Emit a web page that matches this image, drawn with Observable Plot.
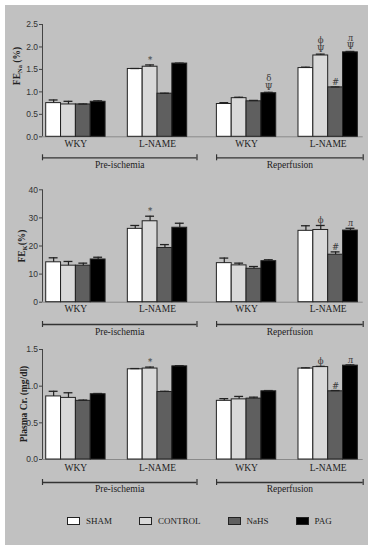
<!DOCTYPE html>
<html><head><meta charset="utf-8">
<script src="https://cdn.jsdelivr.net/npm/d3@7"></script>
<script src="https://cdn.jsdelivr.net/npm/@observablehq/plot@0.6"></script>
<style>
body{margin:0;background:#fff;width:373px;height:550px;position:relative;overflow:hidden;}
#panel{position:absolute;left:5px;top:5px;width:363px;height:540px;background:#c1c1c1;}
.chart{position:absolute;left:0;}
#legend{position:absolute;left:67px;top:516px;display:flex;gap:27px;font-family:"Liberation Serif",serif;font-size:9px;color:#222;align-items:center;}
#legend .item{display:flex;align-items:center;gap:6px;}
#legend .sw{width:11px;height:6px;border:1px solid #222;}
</style></head><body>
<div id="panel"></div>
<div id="c1" class="chart" style="top:0px"></div>
<div id="c2" class="chart" style="top:180px"></div>
<div id="c3" class="chart" style="top:345px"></div>
<div id="legend"></div>
<script>
// ---------- data ----------
const treatments = ["SHAM", "CONTROL", "NaHS", "PAG"];
const groups = ["WKY", "L-NAME", "WKY", "L-NAME"];
const conditions = ["Pre-ischemia", "Reperfusion"];

// rows: Pre WKY, Pre L-NAME, Rep WKY, Rep L-NAME ; cols: SHAM, CONTROL, NaHS, PAG
const feNaMean = [[0.75, 0.72, 0.72, 0.78], [1.51, 1.56, 0.96, 1.63], [0.73, 0.86, 0.79, 0.97], [1.53, 1.81, 1.10, 1.88]];
const feNaErr  = [[0.07, 0.07, 0.01, 0.02], [0.01, 0.04, 0.01, 0.01], [0.03, 0.02, 0.02, 0.02], [0.02, 0.03, 0.01, 0.02]];
const feNaSig  = [[1, 1, "*"], [2, 3, "δ\nΨ"], [3, 1, "ϕ\nΨ"], [3, 2, "#"], [3, 3, "л\nΨ"]];

const feKMean = [[14.2, 13.0, 13.0, 15.2], [26.1, 28.8, 19.3, 26.5], [13.9, 13.1, 11.9, 14.6], [25.4, 25.7, 16.9, 25.5]];
const feKErr  = [[1.6, 1.5, 0.9, 0.8], [1.2, 1.8, 1.2, 1.6], [1.8, 0.8, 0.8, 0.5], [1.8, 1.6, 1.0, 0.8]];
const feKSig  = [[1, 1, "*"], [3, 1, "ϕ"], [3, 2, "#"], [3, 3, "л"]];

const crMean = [[0.86, 0.84, 0.80, 0.89], [1.23, 1.24, 0.92, 1.27], [0.80, 0.82, 0.83, 0.93], [1.24, 1.26, 0.93, 1.28]];
const crErr  = [[0.07, 0.07, 0.01, 0.01], [0.01, 0.02, 0.01, 0.01], [0.03, 0.04, 0.02, 0.01], [0.01, 0.01, 0.01, 0.01]];
const crSig  = [[1, 1, "*"], [3, 1, "ϕ"], [3, 2, "#"], [3, 3, "л"]];

// ---------- styles / layout ----------
const fills = ["#ffffff", "#d9d9d9", "#5f5f5f", "#000000"];
const gapAfter = [1.5, 2, 1.5];      // gaps between groups, in bar widths
const groupStart = [0];
gapAfter.forEach((g, i) => groupStart.push(groupStart[i] + treatments.length + g));
const xDomain = [-0.25, groupStart[3] + treatments.length + 0.36];
const bracketSpan = [[xDomain[0], groupStart[1] + 4 + 0.66], [groupStart[2] - 0.02, xDomain[1]]];
const SERIF = "Liberation Serif, Times New Roman, serif";
const SANS = "Liberation Sans, Arial, sans-serif";
const INK = "#222";

function panel(el, o) {
  const rows = [];
  o.mean.forEach((r, g) => r.forEach((v, t) => rows.push({
    g, t, treat: treatments[t], value: v, err: o.err[g][t],
    x1: groupStart[g] + t, x2: groupStart[g] + t + 1, xc: groupStart[g] + t + 0.5
  })));
  const sig = o.sig.map(([g, t, s]) => {
    const r = rows.find(d => d.g === g && d.t === t);
    return {xc: r.xc, top: r.value + r.err, s};
  });
  const grp = groups.map((name, g) => ({name, xc: groupStart[g] + 2}));
  const br = conditions.map((name, i) => ({name, x1: bracketSpan[i][0], x2: bracketSpan[i][1], xc: (bracketSpan[i][0] + bracketSpan[i][1]) / 2}));
  const brEnds = br.flatMap(b => [b.x1, b.x2]);

  const svg = Plot.plot({
    width: 373, height: o.height,
    marginLeft: 42, marginRight: 10.3, marginTop: o.marginTop, marginBottom: o.height - o.bottom,
    style: {background: "transparent", color: INK, fontFamily: SANS, overflow: "visible"},
    x: {domain: xDomain, axis: null},
    y: {domain: o.domain, axis: null},
    color: {domain: treatments, range: fills},
    marks: [
      Plot.ruleY([0], {x1: xDomain[0], x2: xDomain[1], stroke: "#8a8a8a", strokeWidth: 1}),
      Plot.rect(rows, {x1: "x1", x2: "x2", y1: 0, y2: "value", fill: "treat", stroke: INK, strokeWidth: 1}),
      Plot.ruleX(rows, {x: "xc", y1: "value", y2: d => d.value + d.err, stroke: INK, strokeWidth: 1.2}),
      Plot.ruleY(rows, {y: d => d.value + d.err, x1: d => d.xc - 0.3, x2: d => d.xc + 0.3, stroke: INK, strokeWidth: 1.3}),
      Plot.text(sig, {x: "xc", y: "top", text: "s", lineAnchor: "bottom", dy: -2, fontFamily: "DejaVu Serif, serif", fontSize: 8.5, lineHeight: 1.05, fill: "#3a3a3a", stroke: "none"}),
      Plot.ruleX([xDomain[0]], {y1: o.domain[0], y2: o.domain[1], stroke: "#444", strokeWidth: 1}),
      Plot.axisY({ticks: o.ticks, tickFormat: o.fmt, tickSize: 3, tickPadding: 1.5, fontSize: 8.5, fontFamily: SANS, label: null, stroke: "#444", fill: "#333"}),
      Plot.text(grp, {x: "xc", text: "name", frameAnchor: "bottom", dy: o.dyGroup, fontFamily: SERIF, fontSize: 9.5, fill: INK}),
      Plot.ruleY(br, {y: 0, x1: "x1", x2: "x2", dy: o.dyBracket, stroke: "#333", strokeWidth: 1.3}),
      Plot.ruleX(brEnds, {x: d => d, y1: 0, y2: 0, dy: o.dyBracket, insetTop: -3, insetBottom: -3, stroke: "#333", strokeWidth: 1.2}),
      Plot.text(br, {x: "xc", text: "name", frameAnchor: "bottom", dy: o.dyCond, fontFamily: SERIF, fontSize: 9.5, fill: INK})
    ]
  });
  // rotated y label with subscript
  const lab = d3.select(svg).append("text")
    .attr("transform", `translate(${o.labelX},${o.labelY}) rotate(-90)`)
    .attr("text-anchor", "middle").attr("font-family", SERIF).attr("font-weight", "bold")
    .attr("font-size", 9.5).attr("fill", INK);
  o.label.forEach(p => {
    const ts = lab.append("tspan").text(p.t);
    if (p.sub) ts.attr("font-size", 6.5).attr("dy", 2);
    else if (p.after) ts.attr("dy", -2);
  });
  document.getElementById(el).appendChild(svg);
}

panel("c1", {mean: feNaMean, err: feNaErr, sig: feNaSig, domain: [0, 2.5], ticks: [0, 0.5, 1, 1.5, 2, 2.5], fmt: d3.format(".1f"),
  height: 180, marginTop: 24, bottom: 136.3, dyGroup: 10, dyBracket: 21, dyCond: 31.5,
  labelX: 20, labelY: 66, label: [{t: "FE"}, {t: "Na", sub: true}, {t: " (%)", after: true}]});
panel("c2", {mean: feKMean, err: feKErr, sig: feKSig, domain: [0, 40], ticks: [0, 10, 20, 30, 40], fmt: d3.format("d"),
  height: 165, marginTop: 9.3, bottom: 121.7, dyGroup: 10, dyBracket: 22.3, dyCond: 32.5,
  labelX: 25, labelY: 66, label: [{t: "FE"}, {t: "K", sub: true}, {t: "(%)", after: true}]});
panel("c3", {mean: crMean, err: crErr, sig: crSig, domain: [0, 1.5], ticks: [0, 0.5, 1, 1.5], fmt: d3.format(".1f"),
  height: 160, marginTop: 4, bottom: 114, dyGroup: 11, dyBracket: 23, dyCond: 32.7,
  labelX: 27, labelY: 59, label: [{t: "Plasma Cr. (mg/dl)"}]});

// legend
const leg = d3.select("#legend");
treatments.forEach((t, i) => {
  const it = leg.append("div").attr("class", "item");
  it.append("div").attr("class", "sw").style("background", fills[i]);
  it.append("span").text(t);
});
</script>
</body></html>
